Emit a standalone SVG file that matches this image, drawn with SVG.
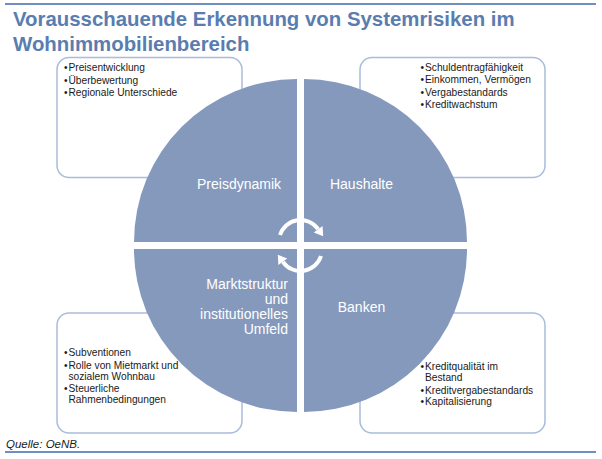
<svg xmlns="http://www.w3.org/2000/svg" width="602" height="459" viewBox="0 0 602 459">
<style>
.rule{stroke:#6f8fc2;stroke-width:2;fill:none}
.title{font-family:"Liberation Sans",Arial,sans-serif;font-weight:bold;font-size:20.4px;fill:#5a7db0}
.box{fill:#ffffff;stroke:#a9bcdb;stroke-width:1.5}
.bt{font-family:"Liberation Sans",Arial,sans-serif;font-size:10.2px;fill:#1a1a1a}
.q{fill:#8599bd}
.ql{font-family:"Liberation Sans",Arial,sans-serif;font-size:14px;fill:#ffffff}
.arc{fill:none;stroke:#ffffff;stroke-width:4}
.ah{fill:#ffffff}
.src{font-family:"Liberation Sans",Arial,sans-serif;font-size:11.5px;font-style:italic;fill:#1a1a1a}
</style>
<rect width="602" height="459" fill="#ffffff"/>
<line class="rule" x1="5" y1="4" x2="596" y2="4"/>
<text class="title" x="13" y="26">Vorausschauende Erkennung von Systemrisiken im</text>
<text class="title" x="13" y="51">Wohnimmobilienbereich</text>

<g id="box-preis">
<rect class="box" x="57" y="57.5" width="185" height="120" rx="12"/>
<text class="bt"><tspan x="64" y="71">•</tspan><tspan x="68.5" y="71">Preisentwicklung</tspan>
<tspan x="64" y="83.5">•</tspan><tspan x="68.5" y="83.5">Überbewertung</tspan>
<tspan x="64" y="96">•</tspan><tspan x="68.5" y="96">Regionale Unterschiede</tspan></text>
</g>
<g id="box-haushalte">
<rect class="box" x="360" y="57.5" width="185" height="120" rx="12"/>
<text class="bt"><tspan x="420.5" y="70.5">•</tspan><tspan x="425" y="70.5">Schuldentragfähigkeit</tspan>
<tspan x="420.5" y="83">•</tspan><tspan x="425" y="83">Einkommen,  Vermögen</tspan>
<tspan x="420.5" y="95.5">•</tspan><tspan x="425" y="95.5">Vergabestandards</tspan>
<tspan x="420.5" y="108">•</tspan><tspan x="425" y="108">Kreditwachstum</tspan></text>
</g>
<g id="box-markt">
<rect class="box" x="57" y="313" width="185" height="120" rx="12"/>
<text class="bt"><tspan x="64" y="356">•</tspan><tspan x="68.5" y="356">Subventionen</tspan>
<tspan x="64" y="368.5">•</tspan><tspan x="68.5" y="368.5">Rolle von Mietmarkt und</tspan>
<tspan x="68.5" y="379.5">sozialem Wohnbau</tspan>
<tspan x="64" y="392">•</tspan><tspan x="68.5" y="392">Steuerliche</tspan>
<tspan x="68.5" y="403">Rahmenbedingungen</tspan></text>
</g>
<g id="box-banken">
<rect class="box" x="360" y="313" width="185" height="120" rx="12"/>
<text class="bt"><tspan x="420.5" y="370">•</tspan><tspan x="425" y="370">Kreditqualität im</tspan>
<tspan x="425" y="381">Bestand</tspan>
<tspan x="420.5" y="393.5">•</tspan><tspan x="425" y="393.5">Kreditvergabestandards</tspan>
<tspan x="420.5" y="404.5">•</tspan><tspan x="425" y="404.5">Kapitalisierung</tspan></text>
</g>

<g id="q-preis">
<path class="q" d="M297,242 H134 A163,163 0 0 1 297,79 Z"/>
<text class="ql" x="239" y="189" text-anchor="middle">Preisdynamik</text>
</g>
<g id="q-haushalte">
<path class="q" d="M304,242 V79 A163,163 0 0 1 467,242 Z"/>
<text class="ql" x="361.5" y="189" text-anchor="middle">Haushalte</text>
</g>
<g id="q-banken">
<path class="q" d="M304,249 H467 A163,163 0 0 1 304,412 Z"/>
<text class="ql" x="361.5" y="311.5" text-anchor="middle">Banken</text>
</g>
<g id="q-markt">
<path class="q" d="M297,249 V412 A163,163 0 0 1 134,249 Z"/>
<text class="ql" text-anchor="end"><tspan x="288" y="289">Marktstruktur</tspan><tspan x="288" y="304">und</tspan><tspan x="288" y="319">institutionelles</tspan><tspan x="288" y="334">Umfeld</tspan></text>
</g>

<g id="connectors">
<path class="arc" d="M280,235 A21.5,21.5 0 0 1 318.1,229.2"/>
<polygon class="ah" points="323.2,236.2 322.6,226.0 313.8,232.4"/>
<path class="arc" d="M321,256 A21.5,21.5 0 0 1 282.9,261.8"/>
<polygon class="ah" points="277.8,254.8 278.4,265.0 287.2,258.6"/>
</g>

<text class="src" x="6" y="448">Quelle: OeNB.</text>
<line class="rule" x1="5" y1="452" x2="596" y2="452"/>
</svg>
